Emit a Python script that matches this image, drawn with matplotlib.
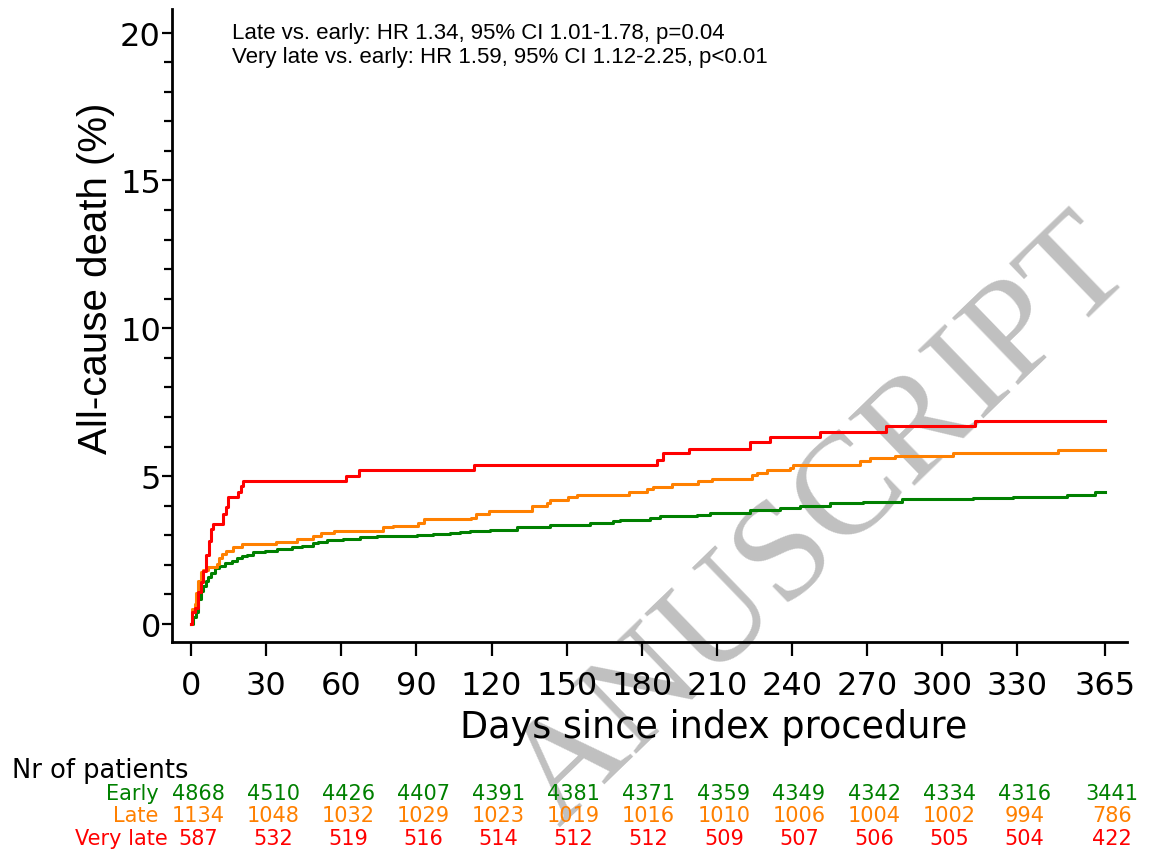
import matplotlib
matplotlib.use("Agg")
import matplotlib.pyplot as plt
import matplotlib.transforms as mtransforms

# Kaplan-Meier style cumulative all-cause death (%)
early_days = [0, 0.9, 2.0, 2.9, 3.9, 4.9, 6.0, 6.9, 7.9, 9.6, 11.3, 13.6, 16.2, 18.2,
              20.2, 22.2, 24.9, 29.6, 34.2, 40.2, 44.2, 48.8, 50.8, 54.2, 60.8, 67.5,
              74.2, 84.8, 90.1, 96.8, 103.4, 107.4, 111.4, 119.4, 130.1, 143.4, 159.3,
              168.7, 171.3, 183.3, 187.3, 202.0, 207.3, 223.2, 235.2, 243.2, 248.5,
              255.2, 268.5, 281.8, 283.8, 312.4, 328.4, 349.7, 361.0, 365]
early_pct = [0, 0.25, 0.40, 0.84, 1.13, 1.29, 1.46, 1.58, 1.72, 1.88, 1.97, 2.06, 2.14, 2.22,
             2.29, 2.34, 2.42, 2.48, 2.53, 2.59, 2.65, 2.74, 2.78, 2.85, 2.87, 2.93,
             2.96, 2.99, 3.02, 3.05, 3.08, 3.10, 3.15, 3.19, 3.27, 3.34, 3.41,
             3.49, 3.52, 3.57, 3.66, 3.68, 3.77, 3.85, 3.92, 3.98, 4.00,
             4.08, 4.11, 4.13, 4.22, 4.25, 4.31, 4.37, 4.45, 4.45]

late_days = [0, 0.2, 1.4, 2.0, 2.9, 4.0, 4.9, 6.9, 10.3, 11.3, 12.2, 14.0, 16.9, 20.2,
             33.9, 42.2, 48.8, 51.8, 57.1, 76.8, 80.8, 90.8, 93.0, 111.7, 113.8, 119.1,
             136.0, 142.0, 143.4, 150.7, 154.0, 175.0, 182.0, 184.6, 192.0, 202.6, 207.9,
             223.9, 225.9, 229.9, 239.2, 240.6, 267.2, 271.2, 281.2, 304.4, 346.4, 365]
late_pct = [0, 0.51, 0.68, 1.05, 1.46, 1.77, 1.83, 1.91, 2.03, 2.22, 2.36, 2.48, 2.59, 2.70,
            2.76, 2.87, 2.98, 3.06, 3.15, 3.27, 3.32, 3.43, 3.55, 3.60, 3.72, 3.81,
            4.00, 4.09, 4.20, 4.28, 4.36, 4.45, 4.56, 4.64, 4.73, 4.84, 4.92,
            5.03, 5.12, 5.21, 5.29, 5.39, 5.50, 5.60, 5.69, 5.78, 5.89, 5.89]

vlate_days = [0, 0.3, 1.6, 2.9, 3.8, 4.9, 5.9, 7.2, 8.0, 8.9, 12.9, 14.0, 14.9, 18.9,
              19.8, 20.9, 61.9, 67.2, 113.0, 186.0, 188.6, 198.9, 223.2, 231.2, 251.2,
              277.4, 313.1, 365]
vlate_pct = [0, 0.40, 0.53, 1.07, 1.43, 1.80, 2.33, 2.82, 3.21, 3.38, 3.72, 3.94, 4.30, 4.47,
             4.65, 4.84, 5.01, 5.20, 5.37, 5.54, 5.77, 5.93, 6.14, 6.31, 6.50,
             6.68, 6.85, 6.85]

groups = ["Early", "Late", "Very late"]
colors = ["#008000", "#ff8000", "#ff0000"]

risk_days = [0, 30, 60, 90, 120, 150, 180, 210, 240, 270, 300, 330, 365]
risk_early = [4868, 4510, 4426, 4407, 4391, 4381, 4371, 4359, 4349, 4342, 4334, 4316, 3441]
risk_late = [1134, 1048, 1032, 1029, 1023, 1019, 1016, 1010, 1006, 1004, 1002, 994, 786]
risk_vlate = [587, 532, 519, 516, 514, 512, 512, 509, 507, 506, 505, 504, 422]

x_ticks = [0, 30, 60, 90, 120, 150, 180, 210, 240, 270, 300, 330, 365]
y_ticks = [0, 5, 10, 15, 20]

W, H = 1157, 853
fig = plt.figure(figsize=(W / 100, H / 100), dpi=100)
ax = fig.add_axes([172 / W, 1 - 643 / H, (1127 - 172) / W, (643 - 10) / H])
ax.set_facecolor("none")

curves = [(early_days, early_pct), (late_days, late_pct), (vlate_days, vlate_pct)]
for (d, p), c in zip(curves, colors):
    ax.step(d, p, where="post", color=c, lw=2.2, zorder=3)

ax.set_xlim(-7.6, 373.8)
ax.set_ylim(-0.61, 20.8)
ax.set_xticks(x_ticks)
ax.set_yticks(y_ticks)
ax.set_yticks(range(0, 21), minor=True)
ax.tick_params(axis="x", length=10, width=1.6, pad=10, labelsize=23, direction="out")
ax.tick_params(axis="y", which="major", length=7, width=1.6, pad=1, labelsize=23)
ax.tick_params(axis="y", which="minor", length=6, width=1.6)
ax.tick_params(axis="x", which="minor", bottom=False)
for s in ["top", "right"]:
    ax.spines[s].set_visible(False)
for s in ["left", "bottom"]:
    ax.spines[s].set_linewidth(2)

fig.text(96 / W, 1 - 278 / H, "All-cause death (%)", rotation=90, ha="center", va="center",
         fontsize=29, family=["Liberation Sans", "DejaVu Sans"])
fig.text(714 / W, 1 - 728 / H, "Days since index procedure", ha="center", va="center", fontsize=26.4)

fig.text(232 / W, 1 - 34 / H, "Late vs. early: HR 1.34, 95% CI 1.01-1.78, p=0.04",
         ha="left", va="center", fontsize=16, family=["Liberation Sans Narrow", "Liberation Sans"])
fig.text(232 / W, 1 - 58 / H, "Very late vs. early: HR 1.59, 95% CI 1.12-2.25, p<0.01",
         ha="left", va="center", fontsize=16, family=["Liberation Sans Narrow", "Liberation Sans"])

# number at risk table
fig.text(12 / W, 1 - 771 / H, "Nr of patients", ha="left", va="center", fontsize=18.5)
trans = mtransforms.blended_transform_factory(ax.transData, fig.transFigure)
row_y = [794, 816, 839]
label_right = [159, 158, 168]
for g, vals, c, ry, lx in zip(groups, [risk_early, risk_late, risk_vlate], colors, row_y, label_right):
    fig.text(lx / W, 1 - ry / H, g, ha="right", va="center", fontsize=15, color=c)
    for d, v in zip(risk_days, vals):
        ax.text(d + 2.8, 1 - ry / H, str(v), transform=trans, ha="center", va="center",
                fontsize=15, color=c, clip_on=False)

# watermark (only the part visible on the page)
fig.text(824 / W, 1 - 524 / H, "ANUSCRIPT", rotation=44, rotation_mode="anchor",
         ha="center", va="center", fontsize=104, color="#c0c0c0",
         family=["Liberation Serif", "DejaVu Serif"], zorder=-1)

fig.savefig("out.png", dpi=100)
